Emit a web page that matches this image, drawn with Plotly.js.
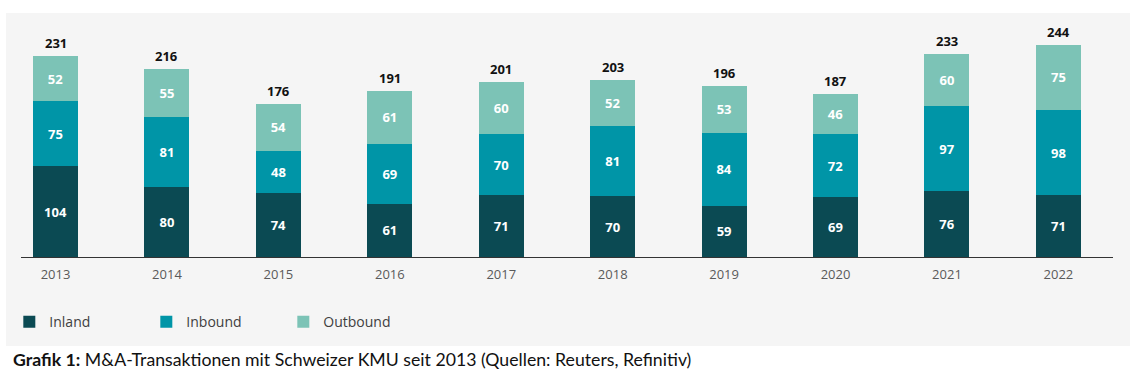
<!DOCTYPE html>
<html>
<head>
<meta charset="utf-8">
<script src="https://cdn.plot.ly/plotly-3.0.1.min.js"></script>
<style>html,body{margin:0;padding:0;background:#fff;}#chart{width:1143px;height:376px;}</style>
</head>
<body>
<div id="chart"></div>
<script>
var years = ['2013','2014','2015','2016','2017','2018','2019','2020','2021','2022'];
var inland = [104, 80, 74, 61, 71, 70, 59, 69, 76, 71];
var inbound = [75, 81, 48, 69, 70, 81, 84, 72, 97, 98];
var outbound = [52, 55, 54, 61, 60, 52, 53, 46, 60, 75];
var totals = [231, 216, 176, 191, 201, 203, 196, 187, 233, 244];
var seriesNames = ['Inland', 'Inbound', 'Outbound'];
var colors = ['#0b4a53', '#0095a7', '#7cc3b6'];
var caption = '<b>Grafik 1:</b> M&A-Transaktionen mit Schweizer KMU seit 2013 (Quellen: Reuters, Refinitiv)';

function barTrace(name, vals, color) {
  return {
    type: 'bar', name: name, x: years, y: vals,
    marker: {color: color, line: {width: 0}},
    text: vals.map(String), textposition: 'inside', insidetextanchor: 'middle',
    textfont: {family: 'Open Sans', size: 13, color: '#ffffff', weight: 700},
    hoverinfo: 'none', cliponaxis: false, constraintext: 'none'
  };
}

var data = [
  barTrace(seriesNames[0], inland, colors[0]),
  barTrace(seriesNames[1], inbound, colors[1]),
  barTrace(seriesNames[2], outbound, colors[2])
];

// category axis: annotation x uses the category index
var totalAnnotations = years.map(function (yr, i) {
  return {
    x: i, y: totals[i], xref: 'x', yref: 'y',
    text: '<b>' + totals[i] + '</b>', showarrow: false,
    xanchor: 'center', yanchor: 'bottom', yshift: 2,
    font: {family: 'Open Sans', size: 13, color: '#111111'}
  };
});

var layout = {
  width: 1143, height: 376,
  margin: {l: 21, r: 30, t: 22, b: 119, autoexpand: false},
  paper_bgcolor: '#ffffff', plot_bgcolor: 'rgba(0,0,0,0)',
  barmode: 'stack', bargap: 0.596,
  font: {family: 'Open Sans', size: 12, color: '#555555'},
  xaxis: {
    type: 'category', range: [-0.31, 9.49],
    showline: true, linecolor: '#333333', linewidth: 1,
    showgrid: false, zeroline: false, ticks: '', ticklabelstandoff: 5,
    tickfont: {family: 'Open Sans', size: 13, color: '#5a5a5a'}
  },
  yaxis: {range: [0, 270], visible: false, showgrid: false, zeroline: false},
  showlegend: true,
  legend: {
    orientation: 'h', x: -0.0107, xanchor: 'left', y: -0.277, yanchor: 'middle',
    traceorder: 'normal', entrywidth: 92, entrywidthmode: 'pixels',
    font: {family: 'Open Sans', size: 14, color: '#404040'},
    bgcolor: 'rgba(0,0,0,0)', itemclick: false, itemdoubleclick: false
  },
  shapes: [{
    type: 'rect', xref: 'paper', yref: 'paper', layer: 'below',
    x0: -0.0137, x1: 1.0156, y0: -0.3787, y1: 1.0383,
    fillcolor: '#f5f5f5', line: {width: 0}
  }],
  annotations: totalAnnotations.concat([{
    xref: 'paper', yref: 'paper', x: -0.0092, y: -0.4365,
    xanchor: 'left', yanchor: 'middle', showarrow: false,
    text: caption, font: {family: 'Lato', size: 17.7, color: '#111111'}
  }])
};

Plotly.newPlot('chart', data, layout, {displayModeBar: false, staticPlot: true});
</script>
</body>
</html>
